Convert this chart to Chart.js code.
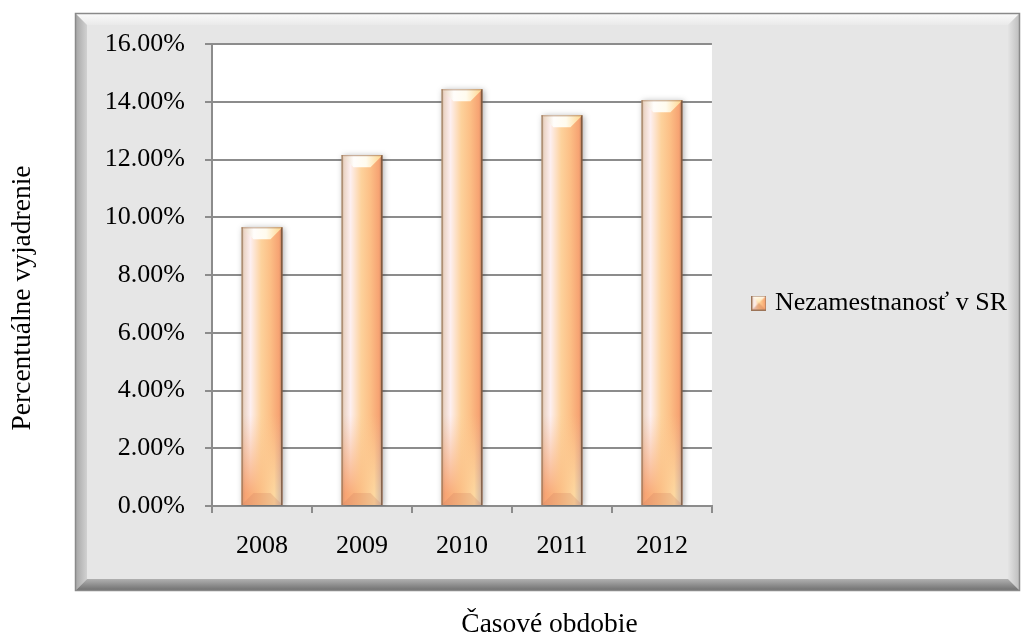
<!DOCTYPE html>
<html>
<head>
<meta charset="utf-8">
<script src="https://cdn.jsdelivr.net/npm/chart.js@4/dist/chart.umd.min.js"></script>
<style>
  html, body { margin: 0; padding: 0; background: #ffffff; }
  #wrap { width: 1024px; height: 639px; }
</style>
</head>
<body>
<div id="wrap"><canvas id="chart" width="1024" height="639"></canvas></div>
<script>
// Unemployment rate in Slovakia, percent
const years = ['2008', '2009', '2010', '2011', '2012'];
const unemployment = [9.65, 12.15, 14.43, 13.53, 14.05];
const seriesName = 'Nezamestnanosť v SR';
const yAxisTitle = 'Percentuálne vyjadrenie';
const xAxisTitle = 'Časové obdobie';
const yMin = 0;
const yMax = 16;
const yStep = 2;

const FONT = "'Liberation Serif', 'Times New Roman', serif";
const FONT_SIZE = 26;
const TITLE_SIZE = 27.5;
const BAR_PCT = 0.41;

// horizontal shading of a bar body
function bodyGradient(c, l, r) {
  const g = c.createLinearGradient(l, 0, r, 0);
  g.addColorStop(0.00, '#c9ad93');
  g.addColorStop(0.07, '#ecd6c8');
  g.addColorStop(0.22, '#fdeff0');
  g.addColorStop(0.48, '#fdd29c');
  g.addColorStop(0.70, '#fcbf86');
  g.addColorStop(0.92, '#f6a272');
  g.addColorStop(1.00, '#a8765a');
  return g;
}
// reversed shading used toward the foot of each bar
function footGradient(c, l, r) {
  const g = c.createLinearGradient(l, 0, r, 0);
  g.addColorStop(0.00, '#d99670');
  g.addColorStop(0.10, '#f7a474');
  g.addColorStop(0.45, '#fbbd84');
  g.addColorStop(0.80, '#fdd8a0');
  g.addColorStop(1.00, '#cdb4a6');
  return g;
}

function barFill(context) {
  const chart = context.chart;
  const xs = chart.scales && chart.scales.x;
  if (!xs || !chart.chartArea || context.dataIndex === undefined) return '#fcc68c';
  const cx = xs.getPixelForValue(context.dataIndex);
  const w = xs.width / years.length * BAR_PCT;
  return bodyGradient(chart.ctx, cx - w / 2, cx + w / 2);
}

// small beveled swatch for the legend
function makeSwatch() {
  const s = 15;
  const cv = document.createElement('canvas');
  cv.width = s; cv.height = s;
  const c = cv.getContext('2d');
  c.fillStyle = bodyGradient(c, 0, s);
  c.fillRect(0, 0, s, s);
  const tg = c.createLinearGradient(0, 0, 0, 7);
  tg.addColorStop(0, 'rgba(255,255,255,0.95)');
  tg.addColorStop(1, 'rgba(255,236,180,0.8)');
  c.fillStyle = tg;
  c.beginPath(); c.moveTo(0, 0); c.lineTo(s, 0); c.lineTo(s / 2, s / 2); c.closePath(); c.fill();
  c.fillStyle = 'rgba(214,130,90,0.5)';
  c.beginPath(); c.moveTo(0, s); c.lineTo(s, s); c.lineTo(s / 2, s / 2); c.closePath(); c.fill();
  c.strokeStyle = '#9c7458';
  c.lineWidth = 1;
  c.strokeRect(0.5, 0.5, s - 1, s - 1);
  return cv;
}

function panelRect(chart) {
  const a = chart.chartArea;
  return { x0: a.left - 137, y0: a.top - 31, x1: chart.width - 4, y1: a.bottom + 85 };
}

// framed panel behind the plot and legend, bar shading and axis titles
const panelPlugin = {
  id: 'panel',
  beforeDraw(chart) {
    const c = chart.ctx;
    const a = chart.chartArea;
    const { x0, y0, x1, y1 } = panelRect(chart);
    const b = 12;
    c.save();
    c.fillStyle = '#ffffff';
    c.fillRect(0, 0, chart.width, chart.height);
    c.fillStyle = '#e6e6e6';
    c.fillRect(x0, y0, x1 - x0, y1 - y0);

    // top facet
    let g = c.createLinearGradient(0, y0, 0, y0 + b);
    g.addColorStop(0, '#fbfbfb'); g.addColorStop(1, '#eaeaea');
    c.fillStyle = g;
    c.beginPath(); c.moveTo(x0, y0); c.lineTo(x1, y0); c.lineTo(x1 - b, y0 + b); c.lineTo(x0 + b, y0 + b); c.closePath(); c.fill();
    // left facet
    g = c.createLinearGradient(x0, 0, x0 + b + 4, 0);
    g.addColorStop(0, '#a4a4a4'); g.addColorStop(1, '#e0e0e0');
    c.fillStyle = g;
    c.beginPath(); c.moveTo(x0, y0); c.lineTo(x0 + b, y0 + b); c.lineTo(x0 + b, y1 - b); c.lineTo(x0, y1); c.closePath(); c.fill();
    // right facet
    g = c.createLinearGradient(x1 - b, 0, x1, 0);
    g.addColorStop(0, '#e4e4e4'); g.addColorStop(1, '#bcbcbc');
    c.fillStyle = g;
    c.beginPath(); c.moveTo(x1, y0); c.lineTo(x1 - b, y0 + b); c.lineTo(x1 - b, y1 - b); c.lineTo(x1, y1); c.closePath(); c.fill();
    // bottom facet
    g = c.createLinearGradient(0, y1 - b, 0, y1);
    g.addColorStop(0, '#b0b0b0'); g.addColorStop(1, '#6c6c6c');
    c.fillStyle = g;
    c.beginPath(); c.moveTo(x0, y1); c.lineTo(x0 + b, y1 - b); c.lineTo(x1 - b, y1 - b); c.lineTo(x1, y1); c.closePath(); c.fill();

    c.strokeStyle = '#8a8a8a';
    c.lineWidth = 1.5;
    c.strokeRect(x0 + 0.5, y0 + 0.5, x1 - x0 - 1, y1 - y0 - 1);

    // plot area
    c.fillStyle = '#ffffff';
    c.fillRect(a.left, a.top, a.right - a.left, a.bottom - a.top);
    c.restore();
  },
  beforeDatasetsDraw(chart) {
    const c = chart.ctx;
    c.save();
    c.shadowColor = 'rgba(0,0,0,0.32)';
    c.shadowBlur = 6;
    c.shadowOffsetX = 2;
    c.shadowOffsetY = 1;
  },
  afterDatasetsDraw(chart) {
    const c = chart.ctx;
    c.restore();
    const meta = chart.getDatasetMeta(0);
    meta.data.forEach((bar) => {
      const p = bar.getProps(['x', 'y', 'base', 'width'], true);
      const l = p.x - p.width / 2, r = p.x + p.width / 2;
      const t = p.y, b = p.base;
      const h = b - t;
      c.save();
      // reversed shading fading in toward the foot
      const foot = Math.min(90, h * 0.5);
      const fg = footGradient(c, l, r);
      for (let i = 0; i < foot; i++) {
        c.globalAlpha = Math.min(1, Math.pow((i + 1) / foot, 1.1) * 1.15);
        c.fillStyle = fg;
        c.fillRect(l, b - foot + i, r - l, 1);
      }
      c.globalAlpha = 1;
      const d = Math.min(12, p.width / 2, h / 2);
      // top bevel
      let g = c.createLinearGradient(l, 0, r, 0);
      g.addColorStop(0, '#e6cdb6');
      g.addColorStop(0.3, '#fffdfb');
      g.addColorStop(0.6, '#fffbee');
      g.addColorStop(1, '#fed488');
      c.fillStyle = g;
      c.beginPath(); c.moveTo(l, t); c.lineTo(r, t); c.lineTo(r - d, t + d); c.lineTo(l + d, t + d); c.closePath(); c.fill();
      // bottom bevel
      c.fillStyle = 'rgba(200,120,90,0.22)';
      c.beginPath(); c.moveTo(l, b); c.lineTo(l + d, b - d); c.lineTo(r - d, b - d); c.lineTo(r, b); c.closePath(); c.fill();
      // side edges
      c.fillStyle = 'rgba(140,105,75,0.55)';
      c.fillRect(l, t, 1.5, h);
      c.fillStyle = 'rgba(110,75,50,0.75)';
      c.fillRect(r - 1.5, t, 1.5, h);
      c.fillStyle = 'rgba(150,105,70,0.6)';
      c.fillRect(l, t, r - l, 1);
      c.restore();
    });
  },
  afterDraw(chart) {
    const c = chart.ctx;
    const { x0, y0, x1, y1 } = panelRect(chart);
    c.save();
    c.fillStyle = '#000000';
    c.font = TITLE_SIZE + 'px ' + FONT;
    c.textAlign = 'center';
    c.textBaseline = 'middle';
    // category axis title, centred under the panel
    c.fillText(xAxisTitle, (x0 + x1) / 2 + 2, y1 + 34);
    // value axis title, rotated, left of the panel
    c.translate(23, (y0 + y1) / 2 - 4);
    c.rotate(-Math.PI / 2);
    c.fillText(yAxisTitle, 0, 0);
    c.restore();
  }
};

new Chart(document.getElementById('chart'), {
  type: 'bar',
  data: {
    labels: years,
    datasets: [{
      label: seriesName,
      data: unemployment,
      backgroundColor: barFill,
      borderWidth: 0,
      barPercentage: BAR_PCT,
      categoryPercentage: 1.0,
      pointStyle: makeSwatch()
    }]
  },
  options: {
    responsive: false,
    devicePixelRatio: 1,
    animation: false,
    layout: { padding: { top: 44, right: 7, bottom: 0, left: 0 } },
    plugins: {
      tooltip: { enabled: false },
      legend: {
        position: 'right',
        fullSize: false,
        maxWidth: 306,
        title: { display: true, text: '', font: { size: 1, lineHeight: 1 }, padding: { top: 0, bottom: 55 } },
        labels: {
          usePointStyle: true,
          pointStyleWidth: 6,
          padding: 44,
          color: '#000000',
          font: { family: FONT, size: FONT_SIZE }
        }
      }
    },
    scales: {
      x: {
        grid: {
          display: true,
          drawOnChartArea: false,
          drawTicks: true,
          tickLength: 7,
          color: '#8c8c8c',
          lineWidth: 2,
          offset: true
        },
        border: { display: true, color: '#8c8c8c', width: 2 },
        ticks: { color: '#000000', padding: 18, font: { family: FONT, size: FONT_SIZE } },
        afterFit(scale) { scale.height = 133; }
      },
      y: {
        min: yMin,
        max: yMax,
        grid: { color: '#8c8c8c', lineWidth: 2, tickLength: 7, drawTicks: true },
        border: { display: true, color: '#8c8c8c', width: 2 },
        ticks: {
          stepSize: yStep,
          color: '#000000',
          padding: 20,
          font: { family: FONT, size: FONT_SIZE },
          callback: (v) => Number(v).toFixed(2) + '%'
        },
        afterFit(scale) { scale.width = 212; }
      }
    }
  },
  plugins: [panelPlugin]
});
</script>
</body>
</html>
